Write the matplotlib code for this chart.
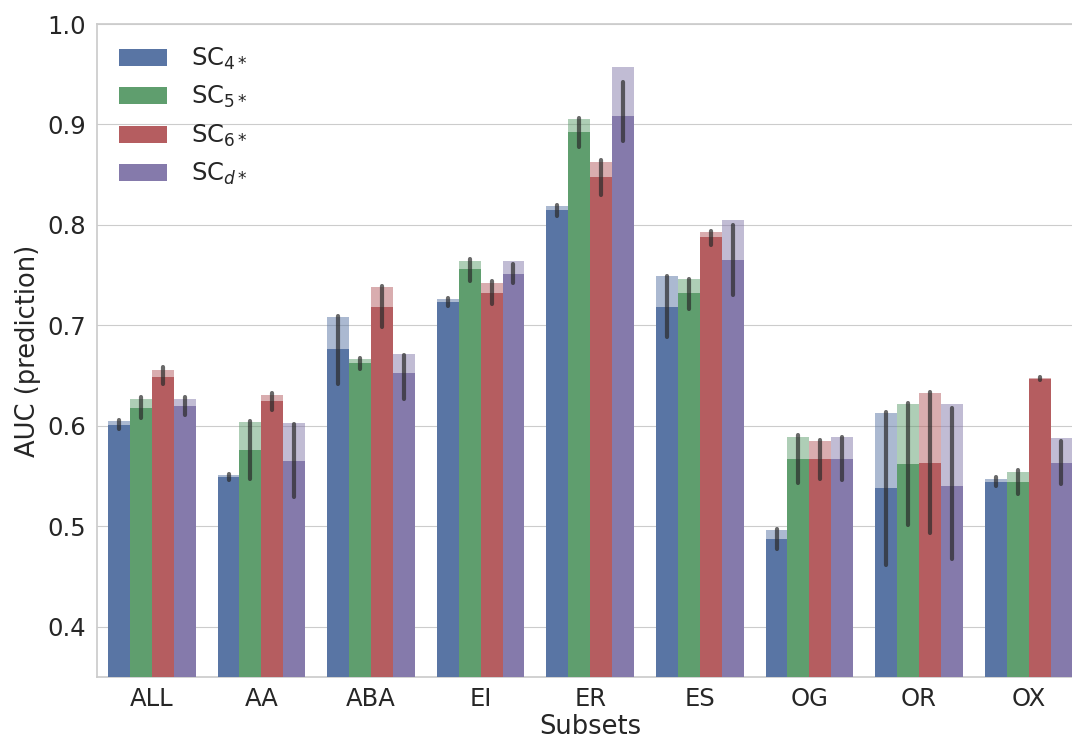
import numpy as np
import matplotlib
matplotlib.use("Agg")
import matplotlib.pyplot as plt
import seaborn as sns

subsets = ['ALL', 'AA', 'ABA', 'EI', 'ER', 'ES', 'OG', 'OR', 'OX']
labels = ['SC$_{4*}$', 'SC$_{5*}$', 'SC$_{6*}$', 'SC$_{d*}$']

mean_sc4 = [0.601, 0.549, 0.676, 0.723, 0.8145, 0.718, 0.487, 0.538, 0.544]
mean_sc5 = [0.618, 0.576, 0.663, 0.756, 0.892, 0.732, 0.567, 0.562, 0.544]
mean_sc6 = [0.649, 0.625, 0.718, 0.732, 0.848, 0.788, 0.567, 0.563, 0.647]
mean_scd = [0.620, 0.565, 0.653, 0.751, 0.908, 0.765, 0.567, 0.540, 0.563]

max_sc4 = [0.605, 0.551, 0.708, 0.726, 0.819, 0.749, 0.496, 0.613, 0.547]
max_sc5 = [0.627, 0.604, 0.667, 0.764, 0.905, 0.746, 0.589, 0.622, 0.554]
max_sc6 = [0.656, 0.631, 0.738, 0.742, 0.863, 0.793, 0.585, 0.633, 0.648]
max_scd = [0.627, 0.603, 0.672, 0.764, 0.957, 0.805, 0.589, 0.622, 0.588]

lo_sc4 = [0.597, 0.546, 0.642, 0.719, 0.8085, 0.688, 0.477, 0.461, 0.540]
hi_sc4 = [0.606, 0.552, 0.709, 0.727, 0.820, 0.749, 0.497, 0.614, 0.549]
lo_sc5 = [0.608, 0.547, 0.657, 0.744, 0.878, 0.716, 0.543, 0.501, 0.5325]
hi_sc5 = [0.629, 0.605, 0.668, 0.766, 0.906, 0.7465, 0.5905, 0.6226, 0.5557]
lo_sc6 = [0.642, 0.616, 0.698, 0.721, 0.830, 0.780, 0.547, 0.493, 0.646]
hi_sc6 = [0.659, 0.633, 0.739, 0.744, 0.8645, 0.794, 0.586, 0.634, 0.649]
lo_scd = [0.611, 0.529, 0.627, 0.742, 0.884, 0.730, 0.546, 0.467, 0.542]
hi_scd = [0.629, 0.602, 0.671, 0.761, 0.942, 0.800, 0.589, 0.618, 0.585]

means = [mean_sc4, mean_sc5, mean_sc6, mean_scd]
maxes = [max_sc4, max_sc5, max_sc6, max_scd]
los = [lo_sc4, lo_sc5, lo_sc6, lo_scd]
his = [hi_sc4, hi_sc5, hi_sc6, hi_scd]

sns.set_style("whitegrid")
plt.rcParams['font.family'] = ['DejaVu Sans']
plt.rcParams['text.color'] = '#262626'
plt.rcParams['axes.labelcolor'] = '#262626'
plt.rcParams['xtick.color'] = '#262626'
plt.rcParams['ytick.color'] = '#262626'

colors = ['#5975A4', '#5F9E6E', '#B55D60', '#857AAB']

fig = plt.figure(figsize=(10.72, 7.4), dpi=100)
ax = fig.add_axes([97 / 1072, 63 / 740, 986.4 / 1072, 653 / 740])

x = np.arange(len(subsets))
w = 0.2
for i in range(4):
    xs = x - 0.3 + w * i
    ax.bar(xs, maxes[i], width=w, color=colors[i], alpha=0.5, linewidth=0, zorder=2)
    ax.bar(xs, means[i], width=w, color=colors[i], linewidth=0, label=labels[i], zorder=3)
    ax.vlines(xs, los[i], his[i], color='#2a2a2a', alpha=0.7, linewidth=3,
              capstyle='round', zorder=4)

ax.set_xlim(-0.5, 8.5)
ax.set_ylim(0.35, 1.0)
ax.set_yticks([0.4, 0.5, 0.6, 0.7, 0.8, 0.9, 1.0])
ax.set_xticks(x)
ax.set_xticklabels(subsets)
ax.tick_params(axis='both', labelsize=17.5, length=0)
ax.tick_params(axis='y', pad=8)
ax.tick_params(axis='x', pad=7)
ax.set_xlabel('Subsets', fontsize=18.5, labelpad=2)
ax.set_ylabel('AUC (prediction)', fontsize=18.5, labelpad=4.5)
ax.set_axisbelow(True)
ax.grid(axis='x', visible=False)
for s in ax.spines.values():
    s.set_color('#cccccc')
    s.set_linewidth(1.25)

ax.legend(loc='upper left', frameon=False, fontsize=17.5, handletextpad=0.95)

fig.savefig('out.png', dpi=100)
